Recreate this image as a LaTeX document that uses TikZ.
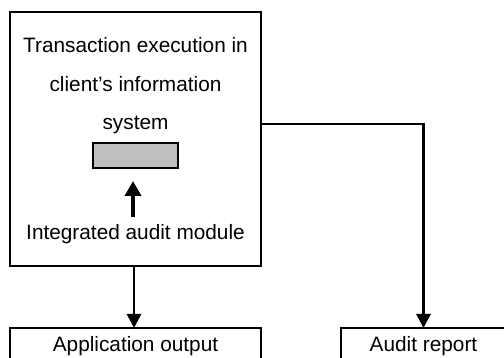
\documentclass[tikz,border=0pt]{standalone}
\usepackage{fontspec}
\setmainfont{Liberation Sans}
\usetikzlibrary{arrows.meta}
\begin{document}
\begin{tikzpicture}[x=1pt,y=-1pt,
  box/.style={draw=black,line width=1.4pt,inner sep=0pt,outer sep=0pt},
  lbl/.style={inner sep=0pt,anchor=base,font=\fontsize{20.8}{25}\selectfont},
  conn/.style={line width=2.8pt,-{Triangle[width=14pt,length=14pt]}}]
\clip (0,0) rectangle (504,358);
\fill[white] (0,0) rectangle (504,358);
% main box
\node[box,minimum width=251pt,minimum height=254pt] (main) at (135.5,139) {};
\node[lbl] (t1) at (135.5,53) {Transaction execution in};
\node[lbl] (t2) at (135.5,92) {client’s information};
\node[lbl] (t3) at (135.5,130) {system};
\node[box,fill=black!25,minimum width=85pt,minimum height=25pt] (gray) at (135.5,155.5) {};
\node[lbl] (t4) at (135.5,240) {Integrated audit module};
\coordinate (up0) at (133,217);
\coordinate (up1) at (133,181);
\draw[line width=3.6pt,-{Triangle[width=16pt,length=15pt]}] (up0) -- (up1);
% output boxes
\node[box,minimum width=251pt,minimum height=50pt] (lbox) at (135.5,353) {};
\node[lbl] (t5) at (135.5,352) {Application output};
\node[box,minimum width=165pt,minimum height=50pt] (rbox) at (423.5,353) {};
\node[lbl] (t6) at (423.5,352) {Audit report};
% connectors
\draw[conn] (main.south -| 134,0) -- (lbox.north -| 134,0);
\coordinate (c1) at (main.east |- 0,124);
\draw[conn] (c1) -| (rbox.north);
\end{tikzpicture}
\end{document}
